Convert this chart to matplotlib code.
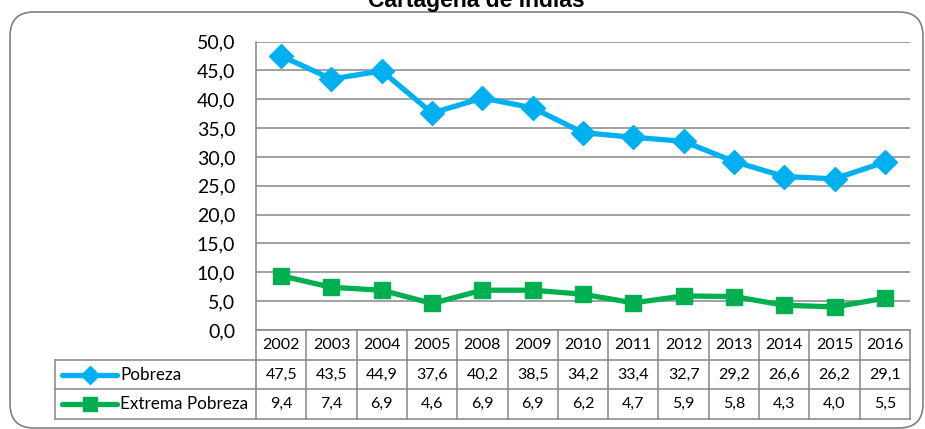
import numpy as np
import matplotlib
matplotlib.use("Agg")
import matplotlib.pyplot as plt
from matplotlib.patches import FancyBboxPatch
from matplotlib.ticker import FuncFormatter

years = ["2002", "2003", "2004", "2005", "2008", "2009", "2010",
         "2011", "2012", "2013", "2014", "2015", "2016"]
pobreza = [47.5, 43.5, 44.9, 37.6, 40.2, 38.5, 34.2, 33.4, 32.7, 29.2, 26.6, 26.2, 29.1]
extrema = [9.4, 7.4, 6.9, 4.6, 6.9, 6.9, 6.2, 4.7, 5.9, 5.8, 4.3, 4.0, 5.5]
series_names = ["Pobreza", "Extrema Pobreza"]
title = "Cartagena de Indias"

W, H = 925, 429
BLUE, GREEN, GRID = "#00B0F0", "#00B050", "#868686"
FONT = ["Lato", "DejaVu Sans"]
plt.rcParams["font.family"] = FONT

fig = plt.figure(figsize=(W / 100, H / 100), dpi=100)

# background frame (pixel coordinates)
bg = fig.add_axes([0, 0, 1, 1], zorder=0)
bg.set_xlim(0, W); bg.set_ylim(H, 0); bg.axis("off")
bg.add_patch(FancyBboxPatch((10, 12), 913, 416, boxstyle="round,pad=0,rounding_size=24",
                            fc="white", ec="#808080", lw=1.2))
fig.text(476 / W, 1 - 7 / H, title, ha="center", va="baseline", fontsize=16.5,
         fontweight="bold", family="Liberation Sans")

# plot area
px0, px1, py0, py1 = 256, 910, 41.5, 330
ax = fig.add_axes([px0 / W, 1 - py1 / H, (px1 - px0) / W, (py1 - py0) / H], zorder=2)
ax.patch.set_alpha(0)
x = np.arange(len(years))
ax.set_xlim(-0.5, len(years) - 0.5)
ax.set_ylim(0, 50)
ax.set_yticks(np.arange(0, 51, 5))
ax.yaxis.set_major_formatter(FuncFormatter(lambda v, p: f"{v:.1f}".replace(".", ",")))
ax.set_xticks([])
ax.grid(axis="y", color=GRID, lw=1.1)
ax.set_axisbelow(True)
for s in ("top", "right", "bottom"):
    ax.spines[s].set_visible(False)
ax.spines["left"].set_color(GRID)
ax.spines["left"].set_linewidth(1.1)
ax.tick_params(axis="y", length=0, pad=15, labelsize=14)
ax.plot(x, pobreza, color=BLUE, lw=3.8, marker="D", ms=12, clip_on=False, zorder=3)
ax.plot(x, extrema, color=GREEN, lw=3.8, marker="s", ms=12, clip_on=False, zorder=3)

# data table below the plot
colw = (px1 - px0) / len(years)
legw = (px0 - 55) / colw
tbl = fig.add_axes([55 / W, 1 - 419 / H, (px1 - 55) / W, (419 - 330) / H], zorder=1)
tbl.set_xlim(-0.5 - legw, len(years) - 0.5)
tbl.set_ylim(3, 0)
tbl.axis("off")
lk = dict(color=GRID, lw=1.1, clip_on=False)
tbl.plot([-0.5, len(years) - 0.5], [0, 0], **lk)
for r in (1, 2, 3):
    tbl.plot([-0.5 - legw, len(years) - 0.5], [r, r], **lk)
for c in range(len(years) + 1):
    tbl.plot([c - 0.5, c - 0.5], [0, 3], **lk)
tbl.plot([-0.5 - legw] * 2, [1, 3], **lk)

fs = 11.5
for i, yr in enumerate(years):
    tbl.text(i, 0.5, yr, ha="center", va="center", fontsize=fs)
    tbl.text(i, 1.5, f"{pobreza[i]:.1f}".replace(".", ","), ha="center", va="center", fontsize=fs)
    tbl.text(i, 2.5, f"{extrema[i]:.1f}".replace(".", ","), ha="center", va="center", fontsize=fs)

# legend keys inside the table
lx0 = -0.5 - legw + 7 / colw
lx1 = -0.5 - legw + 62 / colw
for r, (name, col, mk) in enumerate(zip(series_names, (BLUE, GREEN), ("D", "s"))):
    yy = 1.5 + r
    tbl.plot([lx0, lx1], [yy, yy], color=col, lw=3.8, solid_capstyle="round", clip_on=False)
    tbl.plot([(lx0 + lx1) / 2], [yy], color=col, marker=mk, ms=9 if mk == "D" else 10, clip_on=False)
    tbl.text(lx1 + 3 / colw, yy, name, ha="left", va="center", fontsize=12.3)

fig.savefig("out.png", dpi=100)
